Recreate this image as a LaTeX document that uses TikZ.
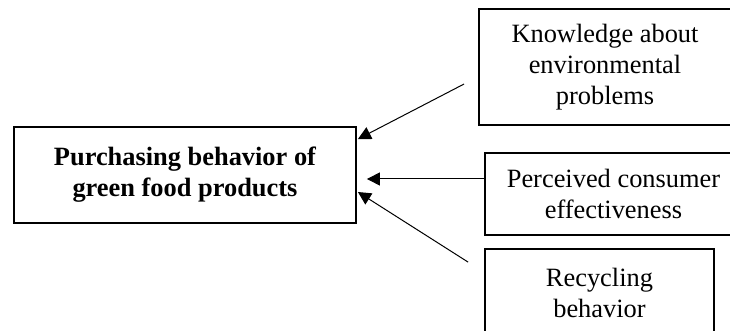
\documentclass[tikz,border=0pt]{standalone}
\usepackage{fontspec}
\setmainfont{Liberation Serif}
\usetikzlibrary{arrows.meta,calc}

\begin{document}
\begin{tikzpicture}[x=0.5pt,y=-0.5pt,
    box/.style={draw,line width=0.9pt,inner sep=0pt,align=center,
      font=\fontsize{13.2}{15.5}\selectfont},
    arr/.style={-{Triangle[length=6.5pt,width=6.5pt]},line width=0.5pt}]
  \useasboundingbox (0,0) rectangle (730,331);
  \node[box,minimum width=171pt,minimum height=48pt,
    font=\fontsize{13.2}{15.5}\selectfont\bfseries] (p) at (185,175)
    {Purchasing behavior of\\green food products};
  \node[box,minimum width=126pt,minimum height=58pt] (k) at (605,67)
    {Knowledge about\\environmental\\problems};
  \node[box,minimum width=128.5pt,minimum height=41pt] (c) at (613.5,194)
    {Perceived consumer\\effectiveness};
  \node[box,minimum width=114.5pt,minimum height=44pt] (r) at (599.5,293)
    {Recycling\\behavior};
  % arrows into the main box
  \coordinate (k1) at ($(k.west)+(-14,17)$);
  \coordinate (r1) at ($(r.north west)+(-16,14)$);
  \draw[arr] (k1) -- ($(p.north east)+(1,13)$);
  \draw[arr] ($(c.west)+(0,-15)$) -- ($(p.east)+(10,4)$);
  \draw[arr] (r1) -- ($(p.east)+(1,17)$);
\end{tikzpicture}
\end{document}
